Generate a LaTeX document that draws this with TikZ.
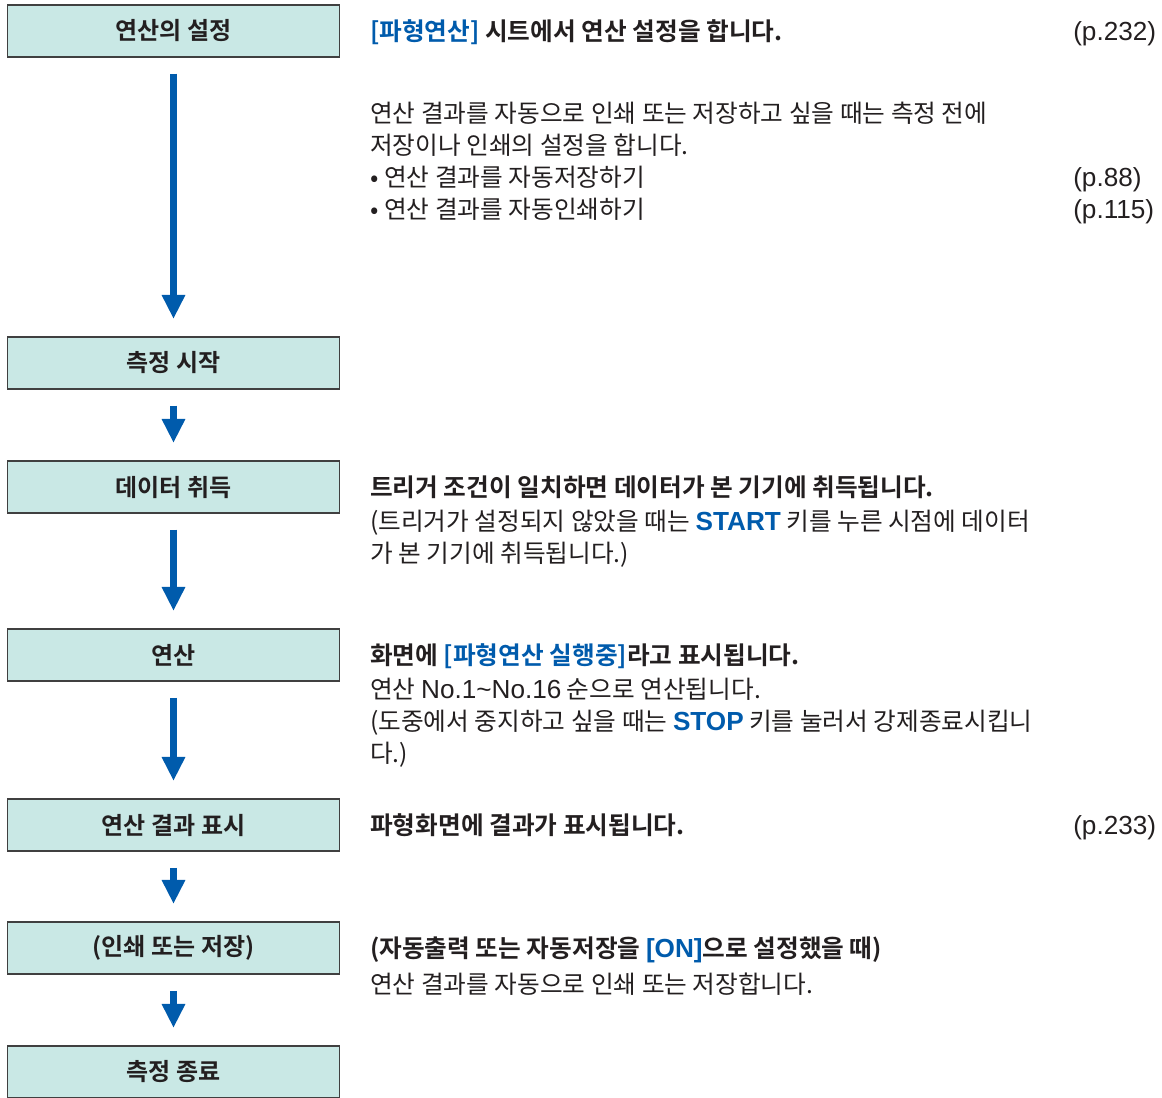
\documentclass[tikz,border=0pt]{standalone}
\usepackage{fontspec}
\setmainfont{Noto Sans CJK KR}[BoldFont={Noto Sans CJK KR Bold}]
\newfontfamily\latinfont{Liberation Sans}[Scale=1.06]
\usetikzlibrary{arrows.meta}
\definecolor{stepblue}{RGB}{0,91,172}
\definecolor{boxteal}{RGB}{201,232,229}
\definecolor{boxedge}{RGB}{64,64,64}
\definecolor{inkgray}{RGB}{35,31,32}
\newcommand{\hl}[1]{\textcolor{stepblue}{#1}}
\newcommand{\lat}[1]{{\latinfont #1}}

\begin{document}
\begin{tikzpicture}[x=0.75pt,y=-0.75pt,
  stagebox/.style={draw=boxedge,line width=1.1pt,fill=boxteal,minimum width=249pt,minimum height=39pt,inner sep=0pt,text=inkgray,font=\fontsize{18}{20}\selectfont\bfseries},
  flowarrow/.style={-{Triangle[width=16.5pt,length=18pt]},stepblue,line width=4.8pt,shorten <=12pt,shorten >=13pt},
  note/.style={anchor=base west,inner sep=0pt,align=left,text=inkgray,font=\fontsize{18.5}{24}\selectfont},
  head/.style={note,font=\fontsize{18.5}{24}\selectfont\bfseries}]
  \useasboundingbox (0,0) rectangle (1162,1097);
  % stages of the flow
  \foreach \y/\n/\lbl in {31/set/{연산의 설정},363/start/{측정 시작},487/acq/{데이터 취득},655/calc/{연산},825/show/{연산 결과 표시},948/out/{(인쇄 또는 저장)},1072/stop/{측정 종료}}
    \node[stagebox] (\n) at (173.5,\y) {\lbl};
  \foreach \a/\b in {set/start,start/acq,acq/calc,calc/show,show/out,out/stop}
    \draw[flowarrow] (\a) -- (\b);
  % explanations (multi-line notes sit on the baseline of their last line)
  \node[head] (h1) at (370,40) {\hl{[파형연산]} 시트에서 연산 설정을 합니다.};
  \node[note] (n1) at (370,218) {연산 결과를 자동으로 인쇄 또는 저장하고 싶을 때는 측정 전에\\저장이나 인쇄의 설정을 합니다.\\• 연산 결과를 자동저장하기\\• 연산 결과를 자동인쇄하기};
  \node[head] (h3) at (370,496) {트리거 조건이 일치하면 데이터가 본 기기에 취득됩니다.};
  \node[note] (n3) at (370,562) {(트리거가 설정되지 않았을 때는 \hl{\bfseries\lat{START}} 키를 누른 시점에 데이터\\가 본 기기에 취득됩니다.)};
  \node[head] (h4) at (370,664) {화면에 \hl{[파형연산 실행중]}라고 표시됩니다.};
  \node[note] (n4) at (370,762) {연산 \lat{No.1\textasciitilde No.16} 순으로 연산됩니다.\\(도중에서 중지하고 싶을 때는 \hl{\bfseries\lat{STOP}} 키를 눌러서 강제종료시킵니\\다.)};
  \node[head] (h5) at (370,834) {파형화면에 결과가 표시됩니다.};
  \node[head] (h6) at (370,957) {(자동출력 또는 자동저장을 \hl{\lat{[ON]}}으로 설정했을 때)};
  \node[note] (n6) at (370,993) {연산 결과를 자동으로 인쇄 또는 저장합니다.};
  % page references
  \foreach \y/\n/\p in {40/p1/232,186/p2/88,218/p3/115,834/p4/233}
    \node[note] (\n) at (1073,\y) {\lat{(p.\p)}};
\end{tikzpicture}
\end{document}
